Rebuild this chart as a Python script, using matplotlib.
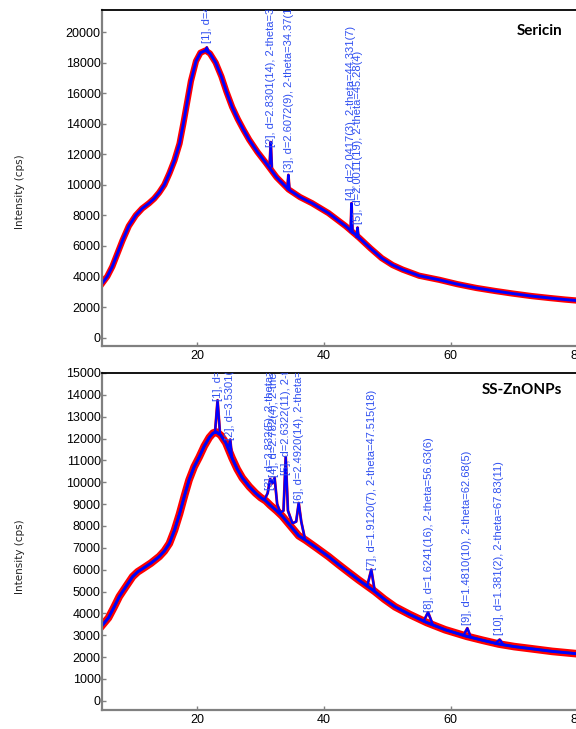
import matplotlib
matplotlib.use("Agg")
import matplotlib.pyplot as plt

# ---- Sericin (top) ----
ser_tt = [5, 5.8, 6.6, 7.4, 8.2, 9.2, 10.3, 11.3, 12.4, 13.2, 14.0, 14.8, 15.6,
          16.4, 17.2, 17.8, 18.4, 19.0, 19.8, 20.5, 21.3, 22.0, 22.9, 23.8,
          24.6, 25.5, 26.4, 27.3, 28.2, 29.5, 30.8, 32.5, 34.4, 36.2, 38.1,
          40.7, 43.4, 45.5, 47.3, 49.1, 50.8, 52.4, 55, 58.2, 61, 64, 67, 69.8,
          72.7, 75.6, 78, 80]
ser_I = [3550, 4000, 4650, 5500, 6350, 7300, 8000, 8450, 8800, 9100, 9500,
         10000, 10750, 11600, 12700, 14000, 15400, 16800, 18100, 18650, 18800,
         18600, 18000, 17100, 16100, 15100, 14300, 13600, 12950, 12150, 11450,
         10500, 9700, 9200, 8800, 8150, 7300, 6550, 5850, 5200, 4750, 4450,
         4050, 3780, 3500, 3250, 3050, 2880, 2720, 2590, 2490, 2420]
ser_pk_x = [[21.25, 21.5, 21.75], [31.42, 31.59, 31.76], [34.2, 34.37, 34.55],
            [44.18, 44.33, 44.5], [45.12, 45.28, 45.45]]
ser_pk_y = [[18800, 19000, 18750], [11400, 12800, 11200], [9780, 10650, 9680],
            [6950, 8800, 6850], [6600, 7200, 6500]]
ser_lab = ["[1], d=4.1318(17), 2-theta=21.49(2)",
           "[2], d=2.8301(14), 2-theta=31.59(2)",
           "[3], d=2.6072(9), 2-theta=34.37(1)",
           "[4], d=2.0417(3), 2-theta=44.331(7)",
           "[5], d=2.0011(19), 2-theta=45.28(4)"]
ser_lab_x = [21.5, 31.6, 34.4, 44.3, 45.3]
ser_lab_y = [19300, 12450, 10850, 9000, 7450]

# ---- SS-ZnONPs (bottom) ----
zn_tt = [5, 6, 6.9, 7.7, 8.8, 9.8, 10.6, 11.4, 12.7, 14.0, 14.8, 15.6, 16.4,
         17.2, 18.0, 18.7, 19.5, 20.3, 21.1, 21.9, 22.5, 23.0, 23.7, 24.5, 25.5,
         26.3, 27.1, 28.2, 29.2, 30.0, 30.8, 31.5, 32.5, 33.4, 34.7, 36.0, 37.1,
         38.8, 40.7, 42.3, 44, 45.5, 46.8, 48.0, 49.5, 51.2, 53.5, 56.2, 59.1,
         62.5, 65, 67.5, 70, 72.2, 76, 80]
zn_I = [3450, 3800, 4300, 4770, 5250, 5680, 5900, 6050, 6300, 6600, 6850, 7200,
        7800, 8550, 9400, 10100, 10700, 11150, 11650, 12050, 12250, 12300,
        12150, 11800, 11100, 10600, 10200, 9800, 9500, 9300, 9150, 8950, 8700,
        8450, 8000, 7550, 7350, 7000, 6600, 6230, 5850, 5520, 5250, 5000, 4650,
        4300, 3950, 3580, 3250, 2950, 2770, 2600, 2480, 2400, 2260, 2150]
zn_pk_x = [[22.8, 23.2, 23.6], [24.9, 25.2, 25.5],
           [30.6, 31.1, 31.5, 31.85, 32.2, 32.6, 33.1, 33.6, 33.95, 34.3, 35.0,
            35.6, 36.0, 36.4, 37.0],
           [46.8, 47.45, 48.0], [55.7, 56.4, 57.1], [62.0, 62.6, 63.1],
           [67.0, 67.7, 68.3]]
zn_pk_y = [[12280, 13750, 12170], [11550, 11950, 11100],
           [9200, 9500, 10150, 9950, 10200, 9000, 8600, 8700, 11150, 8700, 8120,
            8200, 9050, 8200, 7380],
           [5250, 6000, 5000], [3640, 4050, 3520], [3000, 3320, 2940],
           [2630, 2800, 2570]]
zn_lab = ["[1], d=3.8305(13), 2-theta=23.20(2)",
          "[2], d=3.5301(17), 2-theta=25.21(3)",
          "[3], d=2.832(5), 2-theta=31.57(6)",
          "[4], d=2.782(4), 2-theta=32.15(5)",
          "[5], d=2.6322(11), 2-theta=34.03(2)",
          "[6], d=2.4920(14), 2-theta=36.01(2)",
          "[7], d=1.9120(7), 2-theta=47.515(18)",
          "[8], d=1.6241(16), 2-theta=56.63(6)",
          "[9], d=1.4810(10), 2-theta=62.68(5)",
          "[10], d=1.381(2), 2-theta=67.83(11)"]
zn_lab_x = [23.2, 25.2, 31.4, 32.1, 33.95, 36.0, 47.5, 56.5, 62.6, 67.6]
zn_lab_y = [13700, 11950, 9650, 10250, 10330, 9050, 6000, 4080, 3470, 3020]

tick_font = 'Liberation Sans'

fig = plt.figure(figsize=(5.76, 7.29), dpi=100)
ax1 = fig.add_axes([0.1774, 0.5254, 0.8365, 0.4609])
ax2 = fig.add_axes([0.1774, 0.0261, 0.8365, 0.4623])


def panel(ax, tt, I, pkx, pky, labs, lx, ly, red_lw, green):
    ax.plot(tt, I, color='red', lw=red_lw, solid_joinstyle='round')
    for xs, ys in zip(pkx, pky):
        ax.plot(xs, ys, color='red', lw=2)
    if green:
        ax.plot(tt, I, color='green', lw=1.8)
    ax.plot(tt, I, color='blue', lw=2.1, solid_joinstyle='round')
    for xs, ys in zip(pkx, pky):
        ax.plot(xs, ys, color='blue', lw=1.6)
    for s, x, y in zip(labs, lx, ly):
        ax.text(x, y, s, rotation=90, ha='center', va='bottom', color='#3050f0',
                fontsize=8, family='Liberation Sans', clip_on=True)
    ax.set_xlim(5, 81)
    ax.set_xticks([20, 40, 60, 80])
    for side in ['left', 'bottom']:
        ax.spines[side].set_color('#808080')
        ax.spines[side].set_linewidth(1.6)
    ax.spines['top'].set_linewidth(1.3)
    ax.spines['right'].set_visible(False)
    ax.tick_params(direction='in', length=3, color='#808080', width=1,
                   labelsize=9, pad=1)
    ax.tick_params(axis='x', pad=3)


panel(ax1, ser_tt, ser_I, ser_pk_x, ser_pk_y, ser_lab, ser_lab_x, ser_lab_y, 4.5, False)
ax1.set_ylim(-550, 21450)
ax1.set_yticks(range(0, 20001, 2000))

panel(ax2, zn_tt, zn_I, zn_pk_x, zn_pk_y, zn_lab, zn_lab_x, zn_lab_y, 5.5, True)
ax2.set_ylim(-420, 15000)
ax2.set_yticks(range(0, 15001, 1000))

for ax in (ax1, ax2):
    for lab in ax.get_xticklabels() + ax.get_yticklabels():
        lab.set_family(tick_font)

fig.text(562 / 576, 1 - 31 / 729, "Sericin", ha='right', va='center',
         fontsize=11, fontweight='bold', family='Lato')
fig.text(562 / 576, 1 - 390 / 729, "SS-ZnONPs", ha='right', va='center',
         fontsize=11, fontweight='bold', family='Lato')
fig.text(20 / 576, 1 - 192 / 729, "Intensity (cps)", rotation=90, ha='center',
         va='center', fontsize=7.5, color='#222222')
fig.text(20 / 576, 1 - 557 / 729, "Intensity (cps)", rotation=90, ha='center',
         va='center', fontsize=7.5, color='#222222')

fig.savefig("out.png", dpi=100)
